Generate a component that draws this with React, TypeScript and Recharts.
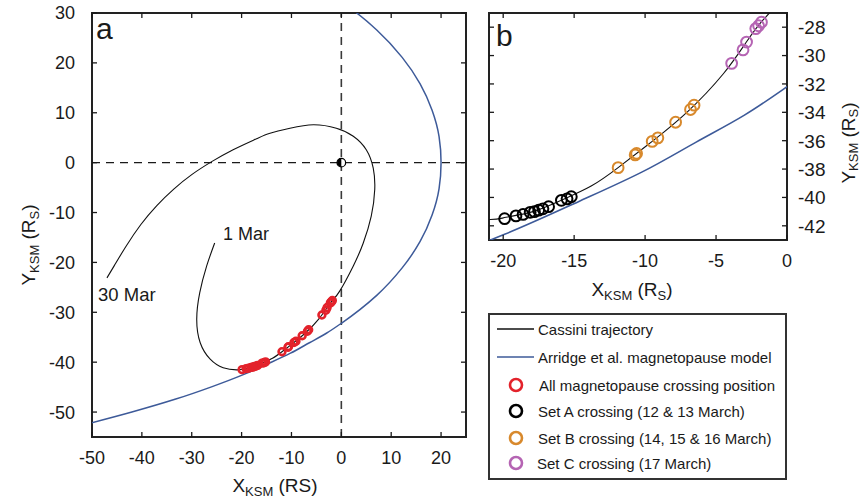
import {
  ScatterChart,
  Scatter,
  XAxis,
  YAxis,
  ReferenceLine,
  ReferenceDot,
  ReferenceArea,
} from 'recharts';

type Pt = { x: number; y: number };

// Cassini orbit 1 Mar -> 30 Mar, KSM coordinates in R_S
const trajectory: Pt[] = [
  { x: -25.4, y: -16.1 },
  { x: -27.0, y: -20.7 },
  { x: -28.4, y: -26.1 },
  { x: -29.0, y: -31.4 },
  { x: -28.3, y: -36.1 },
  { x: -26.3, y: -39.4 },
  { x: -23.7, y: -41.1 },
  { x: -21.0, y: -41.55 },
  { x: -19.8, y: -41.4 },
  { x: -17.9, y: -41.0 },
  { x: -15.9, y: -40.2 },
  { x: -13.8, y: -39.2 },
  { x: -11.9, y: -37.9 },
  { x: -9.5, y: -36.05 },
  { x: -7.0, y: -33.95 },
  { x: -4.5, y: -31.3 },
  { x: -2.9, y: -29.1 },
  { x: -1.7, y: -27.5 },
  { x: -0.3, y: -25.7 },
  { x: 2.4, y: -20.7 },
  { x: 4.4, y: -16.1 },
  { x: 6.0, y: -10.7 },
  { x: 6.7, y: -5.4 },
  { x: 6.4, y: -1.1 },
  { x: 5.0, y: 2.6 },
  { x: 2.4, y: 5.3 },
  { x: -1.0, y: 6.9 },
  { x: -5.6, y: 7.6 },
  { x: -10.3, y: 6.9 },
  { x: -14.3, y: 5.9 },
  { x: -17.0, y: 4.8 },
  { x: -21.7, y: 2.6 },
  { x: -26.0, y: 0.2 },
  { x: -30.0, y: -2.4 },
  { x: -33.6, y: -5.3 },
  { x: -37.0, y: -8.6 },
  { x: -40.2, y: -12.4 },
  { x: -43.2, y: -16.8 },
  { x: -45.5, y: -20.6 },
  { x: -47.0, y: -23.1 },
];

// Arridge et al. magnetopause, ordered by y
const magnetopause: Pt[] = [
  { x: -52.9, y: -52.9 },
  { x: -42.0, y: -50.0 },
  { x: -33.2, y: -47.4 },
  { x: -25.9, y: -44.9 },
  { x: -19.9, y: -42.6 },
  { x: -14.7, y: -40.3 },
  { x: -10.2, y: -38.2 },
  { x: -6.4, y: -36.1 },
  { x: -3.0, y: -34.2 },
  { x: 0, y: -32.2 },
  { x: 7.1, y: -26.6 },
  { x: 12.2, y: -21.1 },
  { x: 15.8, y: -15.8 },
  { x: 18.2, y: -10.5 },
  { x: 19.6, y: -5.2 },
  { x: 20.0, y: 0 },
  { x: 19.6, y: 5.2 },
  { x: 18.2, y: 10.5 },
  { x: 15.8, y: 15.8 },
  { x: 12.2, y: 21.1 },
  { x: 7.1, y: 26.6 },
  { x: 2.7, y: 30.3 },
  { x: 0, y: 32.2 },
];

const setA: Pt[] = [
  { x: -19.9, y: -41.5 },
  { x: -19.1, y: -41.3 },
  { x: -18.6, y: -41.2 },
  { x: -18.1, y: -41.05 },
  { x: -17.8, y: -41.0 },
  { x: -17.5, y: -40.9 },
  { x: -17.2, y: -40.8 },
  { x: -16.8, y: -40.65 },
  { x: -15.9, y: -40.2 },
  { x: -15.5, y: -40.1 },
  { x: -15.2, y: -39.95 },
];

const setB: Pt[] = [
  { x: -11.9, y: -37.9 },
  { x: -10.7, y: -37.0 },
  { x: -10.6, y: -36.9 },
  { x: -9.5, y: -36.05 },
  { x: -9.1, y: -35.8 },
  { x: -7.85, y: -34.7 },
  { x: -6.8, y: -33.8 },
  { x: -6.55, y: -33.5 },
];

const setC: Pt[] = [
  { x: -3.9, y: -30.55 },
  { x: -3.1, y: -29.6 },
  { x: -2.85, y: -29.05 },
  { x: -2.2, y: -28.1 },
  { x: -2.0, y: -27.9 },
  { x: -1.8, y: -27.65 },
];

const allCrossings = [...setA, ...setB, ...setC];

const xTicksA = [-50, -40, -30, -20, -10, 0, 10, 20];
const yTicksA = [-50, -40, -30, -20, -10, 0, 10, 20, 30];
const xTicksB = [-20, -15, -10, -5, 0];
const yTicksB = [-42, -40, -38, -36, -34, -32, -30, -28];

const FONT = 'Liberation Sans, Arial, Helvetica, sans-serif';
const INK = '#1a1a1a';
const RED = '#e3222b';
const ORANGE = '#d8892c';
const PURPLE = '#b564b3';
const BLUE = '#3d5a99';

// panel a plot: 374 x 424, panel b plot: 298 x 227
const A_W = 374;
const A_H = 424;
const B_W = 298;
const B_H = 227;

function xTick(plotH: number, fontSize: number) {
  // eslint-disable-next-line @typescript-eslint/no-explicit-any
  return (props: any) => {
    const { x, y, payload } = props;
    return (
      <g>
        <line x1={x} y1={y} x2={x} y2={y - 5} stroke={INK} strokeWidth={1.3} />
        <line x1={x} y1={y - plotH} x2={x} y2={y - plotH + 5} stroke={INK} strokeWidth={1.3} />
        <text x={x} y={y + 27} textAnchor="middle" fontSize={fontSize} fontFamily={FONT} fill={INK}>
          {payload.value}
        </text>
      </g>
    );
  };
}

function yTickLeft(plotW: number) {
  // eslint-disable-next-line @typescript-eslint/no-explicit-any
  return (props: any) => {
    const { x, y, payload } = props;
    return (
      <g>
        <line x1={x} y1={y} x2={x + 5} y2={y} stroke={INK} strokeWidth={1.3} />
        <line x1={x + plotW} y1={y} x2={x + plotW - 5} y2={y} stroke={INK} strokeWidth={1.3} />
        <text x={x - 17} y={y} dy="0.36em" textAnchor="end" fontSize={18} fontFamily={FONT} fill={INK}>
          {payload.value}
        </text>
      </g>
    );
  };
}

function yTickRight(plotW: number) {
  // eslint-disable-next-line @typescript-eslint/no-explicit-any
  return (props: any) => {
    const { x, y, payload } = props;
    return (
      <g>
        <line x1={x} y1={y} x2={x - 5} y2={y} stroke={INK} strokeWidth={1.3} />
        <line x1={x - plotW} y1={y} x2={x - plotW + 5} y2={y} stroke={INK} strokeWidth={1.3} />
        <text x={x + 11} y={y} dy="0.36em" textAnchor="start" fontSize={19} fontFamily={FONT} fill={INK}>
          {payload.value}
        </text>
      </g>
    );
  };
}

const noDot = () => <g />;

function ring(color: string, r: number, w: number) {
  // eslint-disable-next-line @typescript-eslint/no-explicit-any
  return (p: any) => <circle cx={p.cx} cy={p.cy} r={r} fill="none" stroke={color} strokeWidth={w} />;
}

// eslint-disable-next-line @typescript-eslint/no-explicit-any
const saturn = (p: any) => {
  const r = 4.3;
  return (
    <g>
      <circle cx={p.cx} cy={p.cy} r={r} fill="#fff" stroke="#000" strokeWidth={1.2} />
      <path d={`M${p.cx},${p.cy - r} A${r},${r} 0 0 0 ${p.cx},${p.cy + r} Z`} fill="#000" />
    </g>
  );
};

function PanelA() {
  return (
    <ScatterChart width={480} height={502} margin={{ top: 13, right: 14, bottom: 35, left: 32 }}>
      <XAxis
        type="number"
        dataKey="x"
        domain={[-50, 25]}
        ticks={xTicksA}
        interval={0}
        allowDataOverflow
        height={30}
        tickSize={0}
        tickMargin={0}
        axisLine={false}
        tickLine={false}
        tick={xTick(A_H, 18)}
      />
      <YAxis
        type="number"
        dataKey="y"
        domain={[-55, 30]}
        ticks={yTicksA}
        interval={0}
        allowDataOverflow
        width={60}
        tickSize={0}
        tickMargin={0}
        axisLine={false}
        tickLine={false}
        tick={yTickLeft(A_W)}
      />
      <ReferenceLine x={0} stroke="#3a3a3a" strokeWidth={1.6} strokeDasharray="8 6" />
      <ReferenceLine y={0} stroke="#1a1a1a" strokeWidth={1.4} strokeDasharray="8 6" />
      <Scatter
        data={trajectory}
        line={{ stroke: '#111', strokeWidth: 1.1 }}
        lineJointType="natural"
        shape={noDot}
        isAnimationActive={false}
      />
      <Scatter
        data={magnetopause}
        line={{ stroke: BLUE, strokeWidth: 1.5 }}
        lineJointType="monotoneY"
        shape={noDot}
        isAnimationActive={false}
      />
      <Scatter data={allCrossings} shape={ring(RED, 3.4, 2.6)} isAnimationActive={false} />
      <ReferenceDot x={0} y={0} r={4} shape={saturn} />
      <ReferenceArea x1={-50} x2={25} y1={-55} y2={30} fill="none" stroke="#222" strokeWidth={2} />
    </ScatterChart>
  );
}

function PanelB() {
  return (
    <ScatterChart width={382} height={300} margin={{ top: 13, right: 15, bottom: 30, left: 9 }}>
      <XAxis
        type="number"
        dataKey="x"
        domain={[-21, 0]}
        ticks={xTicksB}
        interval={0}
        allowDataOverflow
        height={30}
        tickSize={0}
        tickMargin={0}
        axisLine={false}
        tickLine={false}
        tick={xTick(B_H, 18)}
      />
      <YAxis
        type="number"
        dataKey="y"
        orientation="right"
        domain={[-43, -27]}
        ticks={yTicksB}
        interval={0}
        allowDataOverflow
        width={60}
        tickSize={0}
        tickMargin={0}
        axisLine={false}
        tickLine={false}
        tick={yTickRight(B_W)}
      />
      <Scatter
        data={trajectory}
        line={{ stroke: '#111', strokeWidth: 1.1 }}
        lineJointType="natural"
        shape={noDot}
        isAnimationActive={false}
      />
      <Scatter
        data={magnetopause}
        line={{ stroke: BLUE, strokeWidth: 1.6 }}
        lineJointType="monotoneY"
        shape={noDot}
        isAnimationActive={false}
      />
      <Scatter data={setA} shape={ring('#000', 5.4, 2)} isAnimationActive={false} />
      <Scatter data={setB} shape={ring(ORANGE, 5.4, 2)} isAnimationActive={false} />
      <Scatter data={setC} shape={ring(PURPLE, 5.4, 2)} isAnimationActive={false} />
      <ReferenceArea x1={-21} x2={0} y1={-43} y2={-27} fill="none" stroke="#222" strokeWidth={2} />
    </ScatterChart>
  );
}

const legendRows = [
  { kind: 'line', color: '#111', label: 'Cassini trajectory', y: 329, tx: 538 },
  { kind: 'line', color: BLUE, label: 'Arridge et al. magnetopause model', y: 357, tx: 538 },
  { kind: 'ring', color: RED, label: 'All magnetopause crossing position', y: 385, tx: 539 },
  { kind: 'ring', color: '#000', label: 'Set A crossing (12 & 13 March)', y: 411, tx: 538 },
  { kind: 'ring', color: ORANGE, label: 'Set B crossing (14, 15 & 16 March)', y: 438, tx: 538 },
  { kind: 'ring', color: PURPLE, label: 'Set C crossing (17 March)', y: 463, tx: 537 },
];

function Overlay() {
  return (
    <svg
      width={862}
      height={502}
      style={{ position: 'absolute', left: 0, top: 0, pointerEvents: 'none' }}
      fontFamily={FONT}
      fill={INK}
    >
      <text x={96} y={39} fontSize={30}>a</text>
      <text x={496} y={46} fontSize={30}>b</text>
      <text x={223} y={240} fontSize={18}>1 Mar</text>
      <text x={98} y={301} fontSize={18.5}>30 Mar</text>

      <text x={275} y={492} fontSize={19} textAnchor="middle">
        X<tspan fontSize={13} dy={4}>KSM</tspan>
        <tspan dy={-4}> (RS)</tspan>
      </text>
      <text transform="translate(35,245) rotate(-90)" fontSize={19} textAnchor="middle">
        Y<tspan fontSize={13} dy={4}>KSM</tspan>
        <tspan dy={-4}> (R</tspan>
        <tspan fontSize={13} dy={4}>S</tspan>
        <tspan dy={-4}>)</tspan>
      </text>
      <text x={632} y={296} fontSize={19} textAnchor="middle">
        X<tspan fontSize={13} dy={4}>KSM</tspan>
        <tspan dy={-4}> (R</tspan>
        <tspan fontSize={13} dy={4}>S</tspan>
        <tspan dy={-4}>)</tspan>
      </text>
      <text transform="translate(855,143) rotate(-90)" fontSize={19} textAnchor="middle">
        Y<tspan fontSize={13} dy={3}>KSM</tspan>
        <tspan dy={-3}> (R</tspan>
        <tspan fontSize={13} dy={3}>S</tspan>
        <tspan dy={-3}>)</tspan>
      </text>

      <rect x={489} y={314} width={297} height={165} fill="#fff" stroke="#333" strokeWidth={2} />
      {legendRows.map((row) => (
        <g key={row.label}>
          {row.kind === 'line' ? (
            <line x1={497} x2={534} y1={row.y} y2={row.y} stroke={row.color} strokeWidth={1.5} />
          ) : (
            <circle cx={516} cy={row.y} r={6} fill="none" stroke={row.color} strokeWidth={2.6} />
          )}
          <text x={row.tx} y={row.y + 5.5} fontSize={15}>
            {row.label}
          </text>
        </g>
      ))}
    </svg>
  );
}

export default function App() {
  return (
    <div
      style={{
        position: 'absolute',
        left: 0,
        top: 0,
        width: 862,
        height: 502,
        background: '#fff',
        fontFamily: FONT,
      }}
    >
      <div style={{ position: 'absolute', left: 0, top: 0 }}>
        <PanelA />
      </div>
      <div style={{ position: 'absolute', left: 480, top: 0 }}>
        <PanelB />
      </div>
      <Overlay />
    </div>
  );
}
